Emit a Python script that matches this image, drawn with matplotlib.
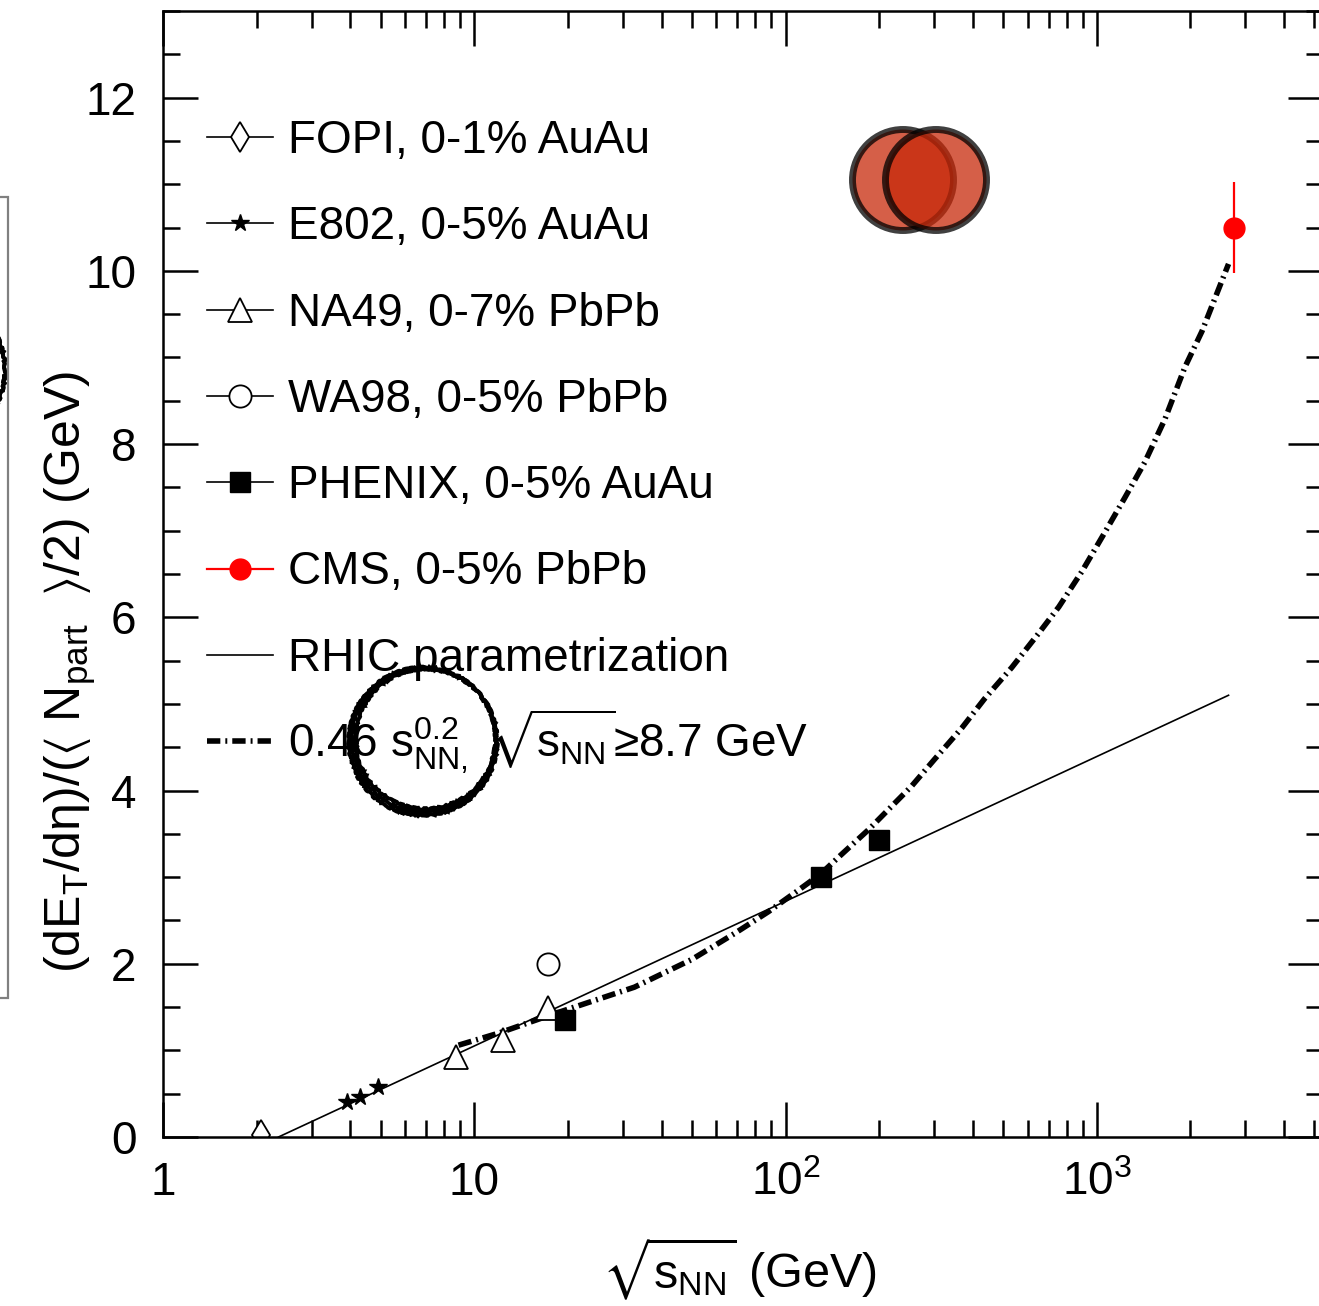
import matplotlib
matplotlib.use('Agg')
import matplotlib.pyplot as plt
from matplotlib.patches import Ellipse, Rectangle
from matplotlib.ticker import MultipleLocator, LogLocator, FuncFormatter, NullFormatter

plt.rcParams['font.family'] = ['Liberation Sans', 'DejaVu Sans']
plt.rcParams['mathtext.fontset'] = 'custom'
plt.rcParams['mathtext.rm'] = 'Liberation Sans'
plt.rcParams['mathtext.it'] = 'Liberation Sans:italic'
plt.rcParams['mathtext.bf'] = 'Liberation Sans:bold'
plt.rcParams['mathtext.sf'] = 'Liberation Sans'
plt.rcParams['mathtext.default'] = 'regular'
plt.rcParams['mathtext.fallback'] = 'stixsans'

# measurements, sqrt(s_NN) in GeV vs dE_T/deta per participant pair
fopi_x = [2.07]
fopi_y = [0.02]
e802_x = [3.9, 4.3, 4.9]
e802_y = [0.40, 0.46, 0.58]
na49_x = [8.75, 12.4, 17.3]
na49_y = [0.92, 1.12, 1.49]
wa98_x = [17.3]
wa98_y = [2.0]
phenix_x = [19.6, 130, 200]
phenix_y = [1.35, 3.0, 3.43]
cms_x = [2760]
cms_y = [10.5]
cms_err = [0.52]

# RHIC log parametrization (straight on log x)
rhic_x = [2.35, 2650]
rhic_y = [0.0, 5.1]

# power law curve 0.46 s^0.2 above 8.7 GeV
fit_x = [8.9, 12, 17.3, 21, 32.7, 50, 68.6, 88, 112, 130, 150, 185, 214, 254, 301,
         368, 436, 533, 652, 755, 896, 1061, 1230, 1426, 1656, 1920, 2176, 2650]
fit_y = [1.06, 1.20, 1.40, 1.50, 1.73, 2.05, 2.35, 2.60, 2.87, 3.04, 3.25, 3.55, 3.78,
         4.05, 4.36, 4.72, 5.06, 5.42, 5.82, 6.12, 6.53, 6.98, 7.38, 7.79, 8.29,
         8.89, 9.30, 10.08]

W, H = 1319, 1306
fig = plt.figure(figsize=(W / 100, H / 100), dpi=100)
ax = fig.add_axes([163 / W, 169 / H, 1160 / W, 1126 / H])
ax.set_xscale('log')
ax.set_xlim(1, 5330)
ax.set_ylim(0, 13)

fitstyle = (0, (2.4, 0.9, 0.35, 0.9))
ax.plot(rhic_x, rhic_y, color='black', lw=1.2)
ax.plot(fit_x, fit_y, color='black', lw=4.0, linestyle=fitstyle, dash_capstyle='butt')

ax.plot(fopi_x, fopi_y, linestyle='none', marker='d', ms=15, mfc='white', mec='black', mew=1.3)
ax.plot(e802_x, e802_y, linestyle='none', marker='*', ms=13, color='black')
ax.plot(na49_x, na49_y, linestyle='none', marker='^', ms=17, mfc='white', mec='black', mew=1.3)
ax.plot(wa98_x, wa98_y, linestyle='none', marker='o', ms=16, mfc='white', mec='black', mew=1.3)
ax.plot(phenix_x, phenix_y, linestyle='none', marker='s', ms=15, color='black')
ax.errorbar(cms_x, cms_y, yerr=cms_err, fmt='o', ms=15, color='red', ecolor='red',
            elinewidth=1.6, capsize=0)

# axes styling
for s in ax.spines.values():
    s.set_linewidth(1.8)
ax.yaxis.set_major_locator(MultipleLocator(2))
ax.yaxis.set_minor_locator(MultipleLocator(0.5))
ax.xaxis.set_major_locator(LogLocator(base=10))
ax.xaxis.set_minor_locator(LogLocator(base=10, subs=range(2, 10)))
xlab = {1: '1', 10: '10', 100: r'$10^{2}$', 1000: r'$10^{3}$'}
ax.xaxis.set_major_formatter(FuncFormatter(lambda v, p: xlab.get(int(round(v)), '')))
ax.xaxis.set_minor_formatter(NullFormatter())
ax.tick_params(which='both', direction='in', top=True, right=True, width=1.8, labelsize=33)
ax.tick_params(which='major', length=25)
ax.tick_params(which='minor', length=12.5)
ax.tick_params(axis='y', pad=19)
ax.tick_params(axis='x', pad=17)

ax.set_xlabel(r'$\sqrt{s_{NN}}$ (GeV)', fontsize=35)
ax.xaxis.set_label_coords(0.497, -0.088)
fig.text(70 / W, 1 - 672 / H,
         r'(dE$_{T}$/d$\eta$)/($\langle$ N$_{part}$  $\rangle$/2) (GeV)',
         rotation=90, ha='center', va='center', fontsize=36)

# legend drawn row by row
entries = [
    ('FOPI, 0-1% AuAu', dict(color='black', lw=1.2, marker='d', ms=15, mfc='white', mec='black', mew=1.3)),
    ('E802, 0-5% AuAu', dict(color='black', lw=1.2, marker='*', ms=13)),
    ('NA49, 0-7% PbPb', dict(color='black', lw=1.2, marker='^', ms=17, mfc='white', mec='black', mew=1.3)),
    ('WA98, 0-5% PbPb', dict(color='black', lw=1.2, marker='o', ms=16, mfc='white', mec='black', mew=1.3)),
    ('PHENIX, 0-5% AuAu', dict(color='black', lw=1.2, marker='s', ms=15)),
    ('CMS, 0-5% PbPb', dict(color='red', lw=1.6, marker='o', ms=15)),
    ('RHIC parametrization', dict(color='black', lw=1.2)),
    (r'0.46 $s_{NN,}^{0.2}$ $\sqrt{s_{NN}}$≥8.7 GeV', dict(color='black', lw=4.0, linestyle=fitstyle,
                                                        dash_capstyle='butt')),
]


def fx(px):
    return (px - 163) / 1160


def fy(py):
    return (1137 - py) / 1126


for i, (label, kw) in enumerate(entries):
    row = 137 + i * 86.3
    mk = kw.pop('marker', None)
    ms = kw.pop('ms', None)
    mopts = {k: kw.pop(k) for k in ('mfc', 'mec', 'mew') if k in kw}
    ax.plot([fx(207), fx(273)], [fy(row), fy(row)], transform=ax.transAxes, clip_on=False, **kw)
    if mk:
        ax.plot([fx(240)], [fy(row)], transform=ax.transAxes, clip_on=False, marker=mk, ms=ms,
                color=kw['color'], linestyle='none', **mopts)
    ax.text(fx(288), fy(row + 16), label, transform=ax.transAxes, fontsize=33, va='baseline')

# highlight marks over the figure
for cx in (903, 936):
    fig.add_artist(Ellipse((cx / W, 1 - 180 / H), 2 * 50.5 / W, 2 * 50.5 / H, transform=fig.transFigure,
                           fc=(0.78, 0.16, 0.04, 0.75), ec=(0, 0, 0, 0.75), lw=5))

for dx, dy, r in ((0, 0, 72), (1.5, -1, 70.0), (-1, 1.5, 74.0)):
    ring = Ellipse(((424 + dx) / W, 1 - (740 + dy) / H), 2 * r / W, 2 * r / H,
                   transform=fig.transFigure, fill=False, ec='black', lw=2.8)
    ring.set_sketch_params(scale=0.9, length=10, randomness=8)
    fig.add_artist(ring)

for dx, r in ((0, 75), (1.5, 73.5)):
    ring2 = Ellipse(((-70 + dx) / W, 1 - 370 / H), 2 * r / W, 2 * r / H, transform=fig.transFigure,
                    fill=False, ec='black', lw=2.8)
    ring2.set_sketch_params(scale=0.9, length=10, randomness=8)
    fig.add_artist(ring2)

fig.add_artist(Rectangle((-0.05, 1 - 998 / H), 0.05 + 8 / W, (998 - 197) / H, transform=fig.transFigure,
                         fill=False, ec='#808080', lw=1.6))

fig.savefig('out.png', dpi=100)
